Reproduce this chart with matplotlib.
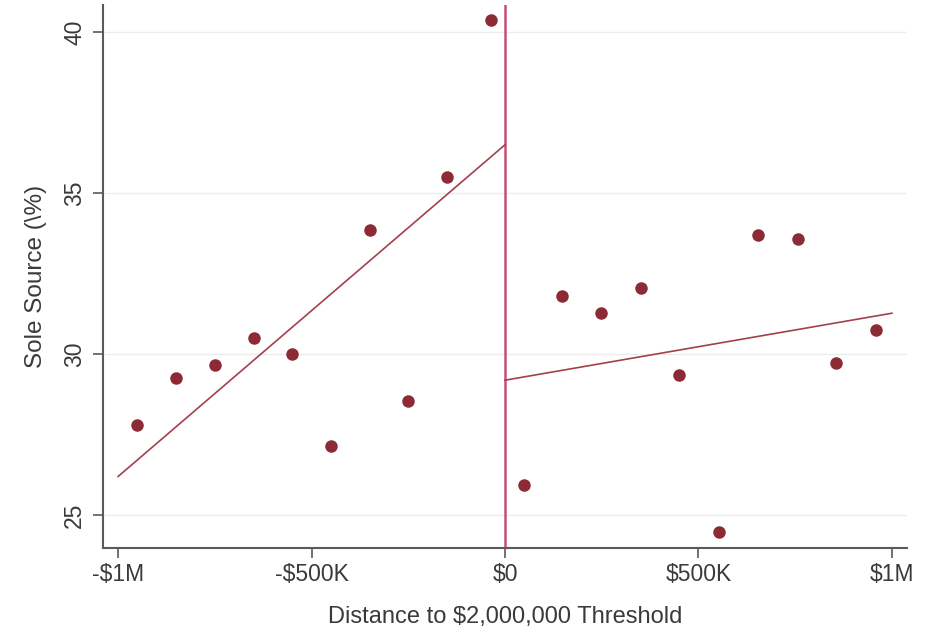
import matplotlib
matplotlib.use("Agg")
import matplotlib.pyplot as plt

# Data (distance in $K, sole source %)
left_x = [-950, -850, -750, -650, -550, -450, -350, -250, -150, -36]
left_y = [27.8, 29.25, 29.65, 30.5, 30.0, 27.15, 33.85, 28.55, 35.5, 40.37]
right_x = [49, 148, 249, 352, 451, 552, 653, 756, 855, 958]
right_y = [25.93, 31.8, 31.27, 32.05, 29.35, 24.47, 33.7, 33.57, 29.72, 30.75]

# Fitted lines (endpoints)
fit_left_x = [-1000, 0]
fit_left_y = [26.2, 36.5]
fit_right_x = [0, 1000]
fit_right_y = [29.19, 31.27]

xticks = [-1000, -500, 0, 500, 1000]
xtick_labels = ["-$1M", "-$500K", "$0", "$500K", "$1M"]
yticks = [25, 30, 35, 40]

plt.rcParams['font.family'] = ['Liberation Sans', 'DejaVu Sans']

fig = plt.figure(figsize=(9.3, 6.27), dpi=100)
ax = fig.add_axes([103/930, 1-548/627, (907-103)/930, (548-5)/627])

ax.set_xlim(-1039, 1039)
ax.set_ylim(23.98, 40.84)

for y in yticks:
    ax.axhline(y, color='#ececec', lw=1.0, zorder=0)

ax.axvline(0, color='#c4507a', lw=1.8, zorder=2)
ax.plot(fit_left_x, fit_left_y, color='#a3404a', lw=1.2, zorder=3)
ax.plot(fit_right_x, fit_right_y, color='#a3404a', lw=1.2, zorder=3)
ax.plot(left_x, left_y, 'o', color='#8c2a35', ms=9, mec='none', zorder=4)
ax.plot(right_x, right_y, 'o', color='#8c2a35', ms=9, mec='none', zorder=4)

for s in ['top', 'right']:
    ax.spines[s].set_visible(False)
for s in ['left', 'bottom']:
    ax.spines[s].set_color('#5a5a5a')
    ax.spines[s].set_linewidth(1.5)

ax.set_xticks(xticks)
ax.set_xticklabels(xtick_labels)
ax.set_yticks(yticks)
ax.set_yticklabels([str(y) for y in yticks], rotation=90, va='center')
ax.tick_params(axis='both', colors='#5a5a5a', length=7, width=1.2, labelsize=16.5, labelcolor='#3a3a3a')
ax.tick_params(axis='x', pad=4)
ax.tick_params(axis='y', pad=5)

ax.set_xlabel("Distance to $2,000,000 Threshold", fontsize=17, color='#3a3a3a', labelpad=14)
ax.set_ylabel("Sole Source (\\%)", fontsize=17.5, color='#3a3a3a', labelpad=12)

fig.savefig("out.png", dpi=100, facecolor='white')
